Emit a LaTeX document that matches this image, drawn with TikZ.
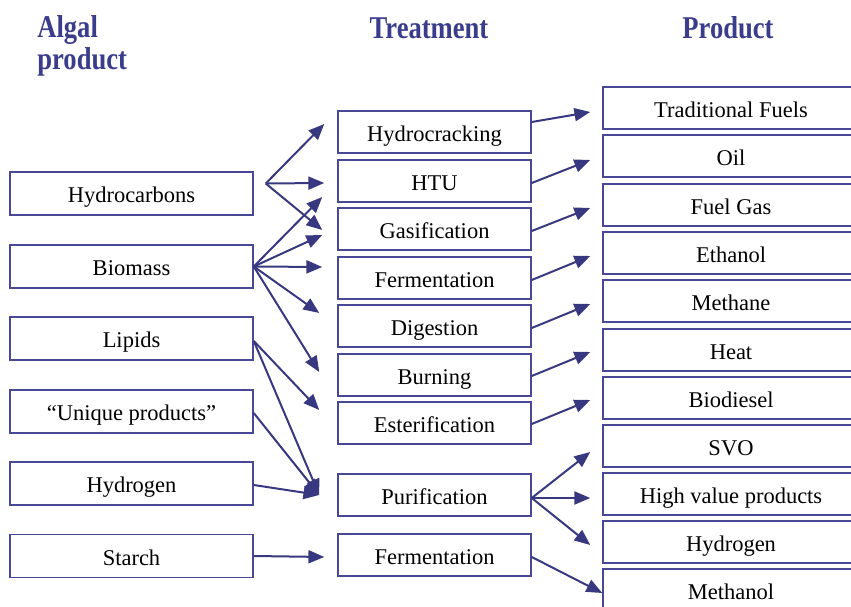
\documentclass[tikz,border=0pt]{standalone}
\usepackage{fontspec}
\setmainfont{Liberation Serif}
\newfontfamily\headfont{Liberation Serif}[FakeStretch=0.84]
\usetikzlibrary{calc,arrows.meta}
\definecolor{boxblue}{RGB}{72,72,150}
\definecolor{arrowblue}{RGB}{56,56,128}
\definecolor{headblue}{RGB}{58,60,140}

\begin{document}
\begin{tikzpicture}[x=0.6pt, y=-0.6pt,
    source/.style={draw=boxblue, line width=0.9pt, minimum width=145.8pt, minimum height=25.8pt, text height=12.5pt, text depth=1.5pt, font=\fontsize{13.5}{15}\selectfont},
    treat/.style={source, minimum width=115.8pt, minimum height=25.2pt},
    result/.style={source, minimum width=153.6pt, minimum height=25.2pt},
    heading/.style={font=\headfont\fontsize{19}{19.5}\selectfont\bfseries, text=headblue},
    flow/.style={draw=arrowblue, line width=1.2pt, -{Triangle[length=9.5pt,width=7.8pt]}}]
    \clip (0,0) rectangle (851,607);
    \useasboundingbox (0,0) rectangle (851,607);

    % headings
    \node[heading, anchor=north west, align=left, inner sep=0pt] (hsource) at (37,15) {Algal\\product};
    \node[heading] (htreat) at (429,28) {Treatment};
    \node[heading] (hresult) at (728,28) {Product};

    % algal products
    \node[source] (hydrocarbons) at (131.5,193.5) {Hydrocarbons};
    \node[source] (biomass) at (131.5,266.5) {Biomass};
    \node[source] (lipids) at (131.5,338.5) {Lipids};
    \node[source] (unique) at (131.5,411.5) {“Unique products”};
    \node[source] (hydrogen) at (131.5,483.5) {Hydrogen};
    \node[source] (starch) at (131.5,556) {Starch};

    % treatments
    \node[treat] (hcrack) at (434.5,132) {Hydrocracking};
    \node[treat] (htu) at (434.5,181) {HTU};
    \node[treat] (gasif) at (434.5,229) {Gasification};
    \node[treat] (ferm) at (434.5,278) {Fermentation};
    \node[treat] (digest) at (434.5,326) {Digestion};
    \node[treat] (burn) at (434.5,375) {Burning};
    \node[treat] (ester) at (434.5,423) {Esterification};
    \node[treat] (purif) at (434.5,495) {Purification};
    \node[treat] (fermtwo) at (434.5,555) {Fermentation};

    % products
    \node[result] (trad) at (731,108) {Traditional Fuels};
    \node[result] (oil) at (731,156) {Oil};
    \node[result] (fuelgas) at (731,205) {Fuel Gas};
    \node[result] (ethanol) at (731,253) {Ethanol};
    \node[result] (methane) at (731,301) {Methane};
    \node[result] (heat) at (731,350) {Heat};
    \node[result] (biodiesel) at (731,398) {Biodiesel};
    \node[result] (svo) at (731,446) {SVO};
    \node[result] (highval) at (731,494) {High value products};
    \node[result] (hydrotwo) at (731,542) {Hydrogen};
    \node[result] (methanol) at (731,590) {Methanol};

    % algal product -> treatment
    \coordinate (hcfork) at ($(hydrocarbons.east)+(12,-10)$);
    \draw[flow] (hcfork) -- ($(hcrack.west)+(-13,-8)$);
    \draw[flow] (hcfork) -- ($(htu.west)+(-13,2)$);
    \draw[flow] (hcfork) -- ($(gasif.west)+(-15,1)$);
    \draw[flow] (biomass.east) -- ($(htu.west)+(-15,16)$);
    \draw[flow] (biomass.east) -- ($(gasif.west)+(-15,6)$);
    \draw[flow] (biomass.east) -- ($(ferm.west)+(-15,-11)$);
    \draw[flow] (biomass.east) -- ($(digest.west)+(-18,-13)$);
    \draw[flow] (biomass.east) -- ($(burn.west)+(-18,-3)$);
    \draw[flow] ($(lipids.east)+(0,2.5)$) -- ($(ester.west)+(-18,-13)$);
    \draw[flow] ($(lipids.east)+(0,2.5)$) -- ($(purif.west)+(-18,0)$);
    \draw[flow] ($(unique.east)+(0,1.5)$) -- ($(purif.west)+(-18,0)$);
    \draw[flow] ($(hydrogen.east)+(0,1.5)$) -- ($(purif.west)+(-18,0)$);
    \draw[flow] (starch.east) -- ($(fermtwo.west)+(-13,2)$);

    % treatment -> product
    \draw[flow] ($(hcrack.east)+(0,-10)$) -- ($(trad.west)+(-12,4)$);
    \draw[flow] ($(htu.east)+(0,2)$) -- ($(oil.west)+(-12,4)$);
    \draw[flow] ($(gasif.east)+(0,2)$) -- ($(fuelgas.west)+(-12,3)$);
    \draw[flow] ($(ferm.east)+(0,2)$) -- ($(ethanol.west)+(-12,3)$);
    \draw[flow] ($(digest.east)+(0,2)$) -- ($(methane.west)+(-12,3)$);
    \draw[flow] ($(burn.east)+(0,1)$) -- ($(heat.west)+(-12,2)$);
    \draw[flow] ($(ester.east)+(0,1)$) -- ($(biodiesel.west)+(-12,2)$);
    \draw[flow] ($(purif.east)+(0,3)$) -- ($(svo.west)+(-12,6)$);
    \draw[flow] ($(purif.east)+(0,3)$) -- ($(highval.west)+(-12,4)$);
    \draw[flow] ($(purif.east)+(0,3)$) -- ($(hydrotwo.west)+(-12,3)$);
    \draw[flow] ($(fermtwo.east)+(0,2)$) -- ($(methanol.west)+(0,3)$);
\end{tikzpicture}
\end{document}
